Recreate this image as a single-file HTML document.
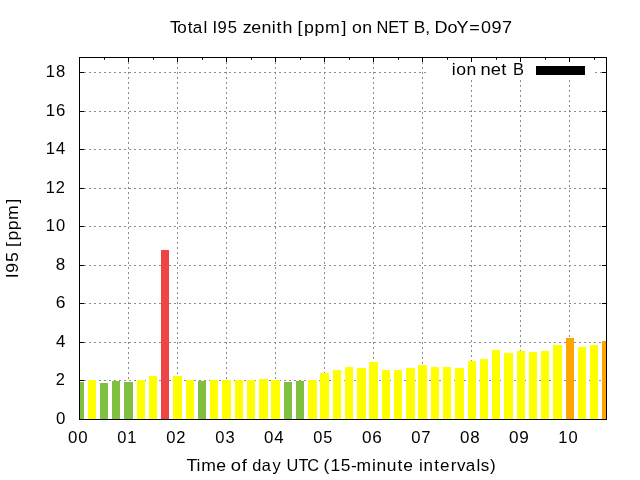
<!DOCTYPE html>
<html lang="en"><head><meta charset="utf-8"><title>Total I95 zenith [ppm] on NET B, DoY=097</title>
<style>
html,body{margin:0;padding:0;background:#fff;}
body{width:640px;height:480px;overflow:hidden;}
svg{display:block;}
text{font-family:"Liberation Sans",sans-serif;font-size:16.9px;fill:#000;font-kerning:none;white-space:pre;}
.txt{will-change:opacity;filter:grayscale(1);}
.g line{stroke:#8c8c8c;stroke-width:1;stroke-dasharray:2 3;shape-rendering:crispEdges;}
.t line{stroke:#000;stroke-width:1;}
.b rect{shape-rendering:crispEdges;}
</style></head><body>
<svg width="640" height="480" viewBox="0 0 640 480">
<rect x="0" y="0" width="640" height="480" fill="#ffffff"/>
<g class="g">
<line x1="79" y1="111.5" x2="606" y2="111.5"/>
<line x1="79" y1="149.5" x2="606" y2="149.5"/>
<line x1="79" y1="188.5" x2="606" y2="188.5"/>
<line x1="79" y1="226.5" x2="606" y2="226.5"/>
<line x1="79" y1="265.5" x2="606" y2="265.5"/>
<line x1="79" y1="303.5" x2="606" y2="303.5"/>
<line x1="79" y1="342.5" x2="606" y2="342.5"/>
<line x1="79" y1="380.5" x2="606" y2="380.5"/>
<line x1="79" y1="72.5" x2="426" y2="72.5"/>
<line x1="595" y1="72.5" x2="606" y2="72.5"/>
<line x1="128.5" y1="419" x2="128.5" y2="57"/>
<line x1="177.5" y1="419" x2="177.5" y2="57"/>
<line x1="226.5" y1="419" x2="226.5" y2="57"/>
<line x1="275.5" y1="419" x2="275.5" y2="57"/>
<line x1="324.5" y1="419" x2="324.5" y2="57"/>
<line x1="373.5" y1="419" x2="373.5" y2="57"/>
<line x1="422.5" y1="419" x2="422.5" y2="57"/>
<line x1="471.5" y1="80" x2="471.5" y2="419"/>
<line x1="520.5" y1="80" x2="520.5" y2="419"/>
<line x1="569.5" y1="80" x2="569.5" y2="419"/>
</g>
<g class="t">
<line x1="79.5" y1="72.5" x2="84" y2="72.5"/>
<line x1="606.5" y1="72.5" x2="602" y2="72.5"/>
<line x1="79.5" y1="111.5" x2="84" y2="111.5"/>
<line x1="606.5" y1="111.5" x2="602" y2="111.5"/>
<line x1="79.5" y1="149.5" x2="84" y2="149.5"/>
<line x1="606.5" y1="149.5" x2="602" y2="149.5"/>
<line x1="79.5" y1="188.5" x2="84" y2="188.5"/>
<line x1="606.5" y1="188.5" x2="602" y2="188.5"/>
<line x1="79.5" y1="226.5" x2="84" y2="226.5"/>
<line x1="606.5" y1="226.5" x2="602" y2="226.5"/>
<line x1="79.5" y1="265.5" x2="84" y2="265.5"/>
<line x1="606.5" y1="265.5" x2="602" y2="265.5"/>
<line x1="79.5" y1="303.5" x2="84" y2="303.5"/>
<line x1="606.5" y1="303.5" x2="602" y2="303.5"/>
<line x1="79.5" y1="342.5" x2="84" y2="342.5"/>
<line x1="606.5" y1="342.5" x2="602" y2="342.5"/>
<line x1="79.5" y1="380.5" x2="84" y2="380.5"/>
<line x1="606.5" y1="380.5" x2="602" y2="380.5"/>
<line x1="128.5" y1="57.5" x2="128.5" y2="62"/>
<line x1="128.5" y1="419.5" x2="128.5" y2="415"/>
<line x1="177.5" y1="57.5" x2="177.5" y2="62"/>
<line x1="177.5" y1="419.5" x2="177.5" y2="415"/>
<line x1="226.5" y1="57.5" x2="226.5" y2="62"/>
<line x1="226.5" y1="419.5" x2="226.5" y2="415"/>
<line x1="275.5" y1="57.5" x2="275.5" y2="62"/>
<line x1="275.5" y1="419.5" x2="275.5" y2="415"/>
<line x1="324.5" y1="57.5" x2="324.5" y2="62"/>
<line x1="324.5" y1="419.5" x2="324.5" y2="415"/>
<line x1="373.5" y1="57.5" x2="373.5" y2="62"/>
<line x1="373.5" y1="419.5" x2="373.5" y2="415"/>
<line x1="422.5" y1="57.5" x2="422.5" y2="62"/>
<line x1="422.5" y1="419.5" x2="422.5" y2="415"/>
<line x1="471.5" y1="57.5" x2="471.5" y2="62"/>
<line x1="471.5" y1="419.5" x2="471.5" y2="415"/>
<line x1="520.5" y1="57.5" x2="520.5" y2="62"/>
<line x1="520.5" y1="419.5" x2="520.5" y2="415"/>
<line x1="569.5" y1="57.5" x2="569.5" y2="62"/>
<line x1="569.5" y1="419.5" x2="569.5" y2="415"/>
<line x1="104.5" y1="57.5" x2="104.5" y2="59.75"/>
<line x1="104.5" y1="419.5" x2="104.5" y2="417.25"/>
<line x1="153.5" y1="57.5" x2="153.5" y2="59.75"/>
<line x1="153.5" y1="419.5" x2="153.5" y2="417.25"/>
<line x1="202.5" y1="57.5" x2="202.5" y2="59.75"/>
<line x1="202.5" y1="419.5" x2="202.5" y2="417.25"/>
<line x1="251.5" y1="57.5" x2="251.5" y2="59.75"/>
<line x1="251.5" y1="419.5" x2="251.5" y2="417.25"/>
<line x1="300.5" y1="57.5" x2="300.5" y2="59.75"/>
<line x1="300.5" y1="419.5" x2="300.5" y2="417.25"/>
<line x1="349.5" y1="57.5" x2="349.5" y2="59.75"/>
<line x1="349.5" y1="419.5" x2="349.5" y2="417.25"/>
<line x1="398.5" y1="57.5" x2="398.5" y2="59.75"/>
<line x1="398.5" y1="419.5" x2="398.5" y2="417.25"/>
<line x1="447.5" y1="57.5" x2="447.5" y2="59.75"/>
<line x1="447.5" y1="419.5" x2="447.5" y2="417.25"/>
<line x1="496.5" y1="57.5" x2="496.5" y2="59.75"/>
<line x1="496.5" y1="419.5" x2="496.5" y2="417.25"/>
<line x1="545.5" y1="57.5" x2="545.5" y2="59.75"/>
<line x1="545.5" y1="419.5" x2="545.5" y2="417.25"/>
<line x1="594.5" y1="57.5" x2="594.5" y2="59.75"/>
<line x1="594.5" y1="419.5" x2="594.5" y2="417.25"/>
</g>
<g class="b">
<rect x="80" y="382" width="4" height="37" fill="#80c040"/>
<rect x="88" y="380" width="8" height="39" fill="#ffff00"/>
<rect x="100" y="383" width="8" height="36" fill="#80c040"/>
<rect x="112" y="381" width="8" height="38" fill="#80c040"/>
<rect x="124" y="382" width="9" height="37" fill="#80c040"/>
<rect x="137" y="380" width="8" height="39" fill="#ffff00"/>
<rect x="149" y="376" width="8" height="43" fill="#ffff00"/>
<rect x="161" y="250" width="8" height="169" fill="#ee4444"/>
<rect x="173" y="376" width="9" height="43" fill="#ffff00"/>
<rect x="186" y="380" width="8" height="39" fill="#ffff00"/>
<rect x="198" y="381" width="8" height="38" fill="#80c040"/>
<rect x="210" y="380" width="8" height="39" fill="#ffff00"/>
<rect x="222" y="380" width="9" height="39" fill="#ffff00"/>
<rect x="235" y="380" width="8" height="39" fill="#ffff00"/>
<rect x="247" y="380" width="8" height="39" fill="#ffff00"/>
<rect x="259" y="379" width="9" height="40" fill="#ffff00"/>
<rect x="271" y="380" width="9" height="39" fill="#ffff00"/>
<rect x="284" y="382" width="8" height="37" fill="#80c040"/>
<rect x="296" y="381" width="8" height="38" fill="#80c040"/>
<rect x="308" y="380" width="9" height="39" fill="#ffff00"/>
<rect x="320" y="373" width="9" height="46" fill="#ffff00"/>
<rect x="333" y="370" width="8" height="49" fill="#ffff00"/>
<rect x="345" y="367" width="8" height="52" fill="#ffff00"/>
<rect x="357" y="368" width="9" height="51" fill="#ffff00"/>
<rect x="369" y="362" width="9" height="57" fill="#ffff00"/>
<rect x="382" y="370" width="8" height="49" fill="#ffff00"/>
<rect x="394" y="370" width="8" height="49" fill="#ffff00"/>
<rect x="406" y="368" width="9" height="51" fill="#ffff00"/>
<rect x="418" y="365" width="9" height="54" fill="#ffff00"/>
<rect x="431" y="367" width="8" height="52" fill="#ffff00"/>
<rect x="443" y="367" width="8" height="52" fill="#ffff00"/>
<rect x="455" y="368" width="9" height="51" fill="#ffff00"/>
<rect x="468" y="361" width="8" height="58" fill="#ffff00"/>
<rect x="480" y="359" width="8" height="60" fill="#ffff00"/>
<rect x="492" y="350" width="8" height="69" fill="#ffff00"/>
<rect x="504" y="353" width="9" height="66" fill="#ffff00"/>
<rect x="517" y="351" width="8" height="68" fill="#ffff00"/>
<rect x="529" y="352" width="8" height="67" fill="#ffff00"/>
<rect x="541" y="351" width="8" height="68" fill="#ffff00"/>
<rect x="553" y="345" width="9" height="74" fill="#ffff00"/>
<rect x="566" y="338" width="8" height="81" fill="#ffa500"/>
<rect x="578" y="347" width="8" height="72" fill="#ffff00"/>
<rect x="590" y="345" width="8" height="74" fill="#ffff00"/>
<rect x="602" y="341" width="4" height="78" fill="#ffa500"/>
<rect x="536" y="66" width="49" height="9" fill="#000"/>
</g>
<rect x="79.5" y="57.5" width="527" height="362" fill="none" stroke="#000" stroke-width="1" shape-rendering="crispEdges"/>
<g class="txt">
<text transform="translate(169.93,32.75) scale(1.0082,1)" x="0.00 7.23 17.58 22.71 33.28">Total</text>
<text transform="translate(212.54,32.75) scale(0.9844,1)" x="0.00 5.14 15.43">I95</text>
<text transform="translate(242.71,32.75) scale(1.0568,1)" x="0.00 8.18 17.70 27.45 32.03 37.56">zenith</text>
<text transform="translate(297.54,32.75) scale(1.0513,1)" x="0.00 6.26 16.04 26.05 41.83">[ppm]</text>
<text transform="translate(352.03,32.75) scale(1.0456,1)" x="0.00 9.87">on</text>
<text transform="translate(376.57,32.75) scale(0.9700,1)" x="0.00 12.02 22.99">NET</text>
<text transform="translate(413.65,32.75) scale(1.0231,1)" x="0.00 11.26">B,</text>
<text transform="translate(434.51,32.75) scale(1.0676,1)" x="0.00 12.12 20.68 32.60 43.45 53.36 63.33">DoY=097</text>
<text transform="translate(186.45,471.25) scale(1.0432,1)" x="0.00 9.62 14.07 28.58">Time</text>
<text transform="translate(230.69,471.25) scale(1.0900,1)" x="0.00 10.05">of</text>
<text transform="translate(252.35,471.25) scale(0.9700,1)" x="0.00 9.83 20.89">day</text>
<text transform="translate(286.60,471.25) scale(0.9700,1)" x="0.00 12.21 21.20">UTC</text>
<text transform="translate(323.60,471.25) scale(1.0316,1)" x="0.00 6.61 16.73 26.60 31.90 46.88 51.25 61.15 71.56 77.21">(15-minute</text>
<text transform="translate(418.99,471.25) scale(1.0097,1)" x="0.00 4.56 15.10 20.94 31.37 37.73 46.36 56.97 61.17 70.25">intervals)</text>
<text transform="translate(17.80,278.23) rotate(-90) scale(1.0496,1)" x="0.00 5.14 15.43">I95</text>
<text transform="translate(17.80,246.94) rotate(-90) scale(1.0376,1)" x="0.00 6.26 16.04 26.05 41.83">[ppm]</text>
<text transform="translate(451.79,74.80) scale(1.0440,1)" x="0.00 4.22 14.13">ion</text>
<text transform="translate(480.58,74.80) scale(1.0900,1)" x="0.00 9.29 19.06">net</text>
<text transform="translate(512.90,74.80) scale(0.9728,1)" x="0.00">B</text>
<text transform="translate(45.73,76.80) scale(0.9822,1)" x="0.00 10.45">18</text>
<text transform="translate(45.67,115.80) scale(0.9944,1)" x="0.00 10.32">16</text>
<text transform="translate(45.75,153.80) scale(0.9774,1)" x="0.00 10.50">14</text>
<text transform="translate(45.79,192.80) scale(0.9700,1)" x="0.00 10.36">12</text>
<text transform="translate(45.75,230.80) scale(0.9767,1)" x="0.00 10.51">10</text>
<text transform="translate(55.87,269.80) scale(1.0088,1)" x="0.00">8</text>
<text transform="translate(55.75,307.80) scale(1.0329,1)" x="0.00">6</text>
<text transform="translate(55.91,346.80) scale(0.9981,1)" x="0.00">4</text>
<text transform="translate(55.84,384.80) scale(0.9700,1)" x="0.00">2</text>
<text transform="translate(55.92,423.80) scale(0.9980,1)" x="0.00">0</text>
<text transform="translate(68.12,443.00) scale(0.9980,1)" x="0.00 10.20">00</text>
<text transform="translate(117.22,443.00) scale(0.9767,1)" x="0.00 10.34">01</text>
<text transform="translate(166.20,443.00) scale(0.9804,1)" x="0.00 10.17">02</text>
<text transform="translate(215.21,443.00) scale(0.9783,1)" x="0.00 10.43">03</text>
<text transform="translate(264.12,443.00) scale(0.9981,1)" x="0.00 10.20">04</text>
<text transform="translate(313.25,443.00) scale(0.9701,1)" x="0.00 10.43">05</text>
<text transform="translate(362.04,443.00) scale(1.0151,1)" x="0.00 10.03">06</text>
<text transform="translate(411.17,443.00) scale(0.9874,1)" x="0.00 10.28">07</text>
<text transform="translate(460.09,443.00) scale(1.0034,1)" x="0.00 10.15">08</text>
<text transform="translate(509.04,443.00) scale(1.0141,1)" x="0.00 9.99">09</text>
<text transform="translate(558.13,443.00) scale(0.9767,1)" x="0.00 10.51">10</text>
</g>
</svg>
</body></html>
